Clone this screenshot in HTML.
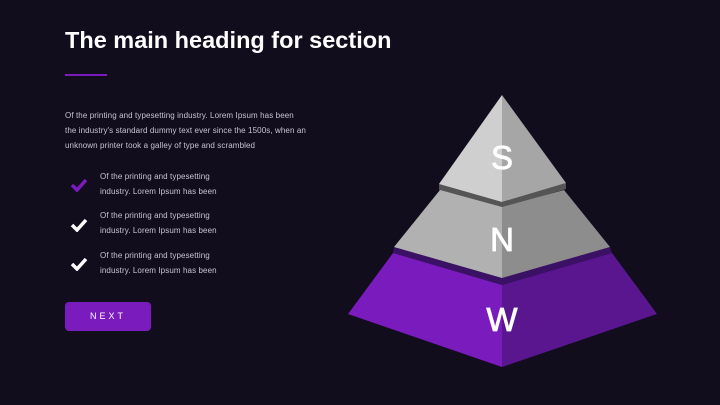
<!DOCTYPE html><html><head><style>
body{margin:0;width:720px;height:405px;background:#110d1d;font-family:"Liberation Sans",sans-serif;position:relative;overflow:hidden;color:#fff}
h1{position:absolute;left:65px;top:27px;margin:0;font-size:23.5px;font-weight:bold;letter-spacing:0;white-space:nowrap}
.ln{position:absolute;left:65px;top:74px;width:42px;height:2px;background:#7a1bbd}
.p{position:absolute;left:65px;top:108px;font-size:8px;line-height:15px;color:#c8c4d0;white-space:nowrap;letter-spacing:0.1px}
.it{position:absolute;left:100px;font-size:8px;line-height:15px;color:#c8c4d0;letter-spacing:0.1px}
.ck{position:absolute;left:70px}
.btn{position:absolute;left:65px;top:302px;width:86px;height:29px;background:#7a1bbd;border-radius:4px;font-size:9px;letter-spacing:3px;text-align:center;line-height:29px}
</style></head><body>
<h1>The main heading for section</h1><div class="ln"></div>
<div class="p">Of the printing and typesetting industry. Lorem Ipsum has been<br>the industry's standard dummy text ever since the 1500s, when an<br>unknown printer took a galley of type and scrambled</div>
<svg class="ck" style="top:178px" width="18" height="14"><path d="M2 7 L7 12 L16 2" stroke="#7a1bbd" stroke-width="3.5" fill="none"/></svg>
<div class="it" style="top:169px">Of the printing and typesetting<br>industry. Lorem Ipsum has been</div>
<svg class="ck" style="top:218px" width="18" height="14"><path d="M2 7 L7 12 L16 2" stroke="#fff" stroke-width="3.5" fill="none"/></svg>
<div class="it" style="top:208px">Of the printing and typesetting<br>industry. Lorem Ipsum has been</div>
<svg class="ck" style="top:257px" width="18" height="14"><path d="M2 7 L7 12 L16 2" stroke="#fff" stroke-width="3.5" fill="none"/></svg>
<div class="it" style="top:248px">Of the printing and typesetting<br>industry. Lorem Ipsum has been</div>
<div class="btn">NEXT</div>
<svg style="position:absolute;left:0;top:0" width="720" height="405">
<polygon points="439,184 502,202 566,183 566,189 502,208 439,190" fill="#555"/>
<polygon points="502,95 439,184 502,202" fill="#cfcfcf"/>
<polygon points="502,95 566,183 502,202" fill="#a6a6a6"/>
<polygon points="394,247 502,278 610,247 612,253 502,285 393,253" fill="#3a1165"/>
<polygon points="440,190 502,207 502,278 394,247" fill="#b1b1b1"/>
<polygon points="564,190 502,207 502,278 610,247" fill="#8d8d8d"/>
<polygon points="393,253 502,285 502,367 348,314" fill="#7a1bbd"/>
<polygon points="612,253 502,285 502,367 657,314" fill="#59168f"/>
<g font-family="Liberation Sans,sans-serif" fill="#fff" font-size="33" text-anchor="middle" stroke="#fff" stroke-width="0.8">
<text x="502" y="169">S</text><text x="502" y="251">N</text><text x="502" y="331">W</text></g>
</svg>
</body></html>
